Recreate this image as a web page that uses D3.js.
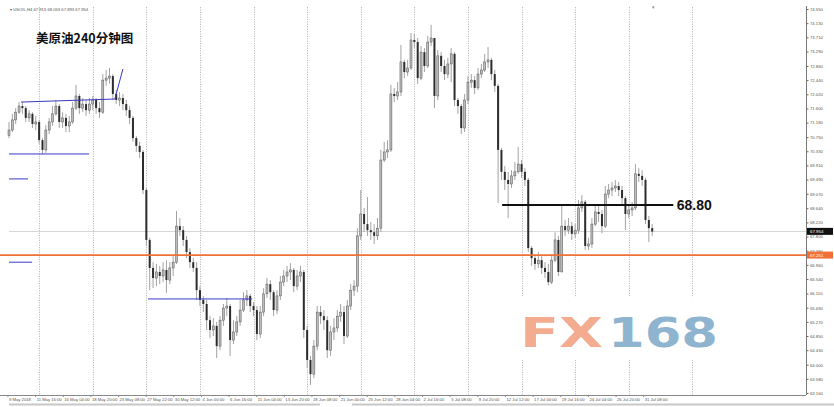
<!DOCTYPE html>
<html><head><meta charset="utf-8">
<script src="https://cdn.jsdelivr.net/npm/d3@7/dist/d3.min.js"></script>
<style>body{margin:0;background:#fff}svg{display:block}</style>
</head><body>
<svg id="c" width="834" height="407"></svg>
<script>
// ---- data (8-hour candles) ----
const firstOpen = 70.80;
const closes = [
70.96,71.26,71.49,71.67,71.61,71.32,71.44,71.14,71.20,70.66,
70.37,70.96,71.20,71.44,71.67,71.20,71.32,71.08,71.20,71.61,
71.97,71.61,71.73,71.55,71.73,71.85,71.61,71.49,72.44,72.50,
72.56,72.03,71.85,71.91,71.73,71.55,71.32,70.72,70.49,70.31,
69.18,67.70,66.87,66.57,66.75,66.63,66.81,66.51,66.87,67.04,
68.11,67.99,67.70,67.34,67.04,66.87,66.21,65.92,65.80,65.32,
65.03,65.15,64.55,65.32,65.68,65.74,64.73,64.97,65.27,65.62,
65.92,66.04,65.74,65.62,64.91,65.56,66.10,66.39,66.15,65.62,
66.04,66.45,66.63,66.75,66.81,66.33,66.63,66.75,65.03,64.14,
63.72,64.55,65.56,65.44,65.32,64.43,64.97,65.09,65.44,65.56,
64.85,65.74,66.21,66.33,67.82,68.47,68.17,67.99,67.93,67.82,
68.05,70.07,70.31,70.37,72.03,71.97,72.09,72.98,72.68,72.80,
73.63,73.57,72.50,73.27,72.86,73.57,73.69,71.97,73.16,72.86,
72.62,72.92,73.22,71.85,71.67,71.02,71.85,72.38,72.44,72.21,
72.62,72.74,72.98,73.04,72.62,72.27,70.37,69.72,69.48,69.36,
69.60,69.72,69.95,69.72,69.48,67.46,67.16,66.99,67.10,66.87,
66.75,66.45,67.10,67.70,66.75,68.11,67.99,68.11,67.88,67.99,
68.65,68.83,67.52,67.58,68.17,68.53,68.47,68.11,69.06,69.18,
69.24,69.30,69.18,68.94,68.47,68.59,68.65,69.66,69.60,69.48,
68.29,68.05,67.95];
const highs = [
71.20,71.44,71.61,71.79,71.79,71.67,71.55,71.49,71.38,71.26,
70.72,71.11,71.32,71.67,71.85,71.73,71.49,71.44,71.38,71.79,
72.30,72.03,71.91,71.85,71.91,71.97,71.91,71.79,72.62,72.74,
72.80,72.62,72.15,72.09,72.03,71.85,71.67,71.38,70.78,70.61,
70.37,69.24,67.76,67.04,66.99,66.93,67.04,67.10,67.04,67.22,
68.56,68.35,68.11,67.82,67.46,67.16,67.04,66.33,66.04,65.92,
65.44,65.38,65.27,65.44,65.80,65.98,65.80,65.32,65.44,65.92,
66.15,66.21,66.10,65.86,65.74,65.74,66.27,66.57,66.51,66.21,
66.21,66.63,66.81,66.93,67.01,66.87,66.81,66.93,66.81,65.15,
64.26,64.73,65.74,65.74,65.62,65.44,65.15,65.38,65.62,65.80,
65.74,65.92,66.39,66.51,68.05,69.18,68.65,68.97,68.23,68.17,
68.35,70.37,70.61,70.66,72.30,72.21,72.38,73.48,73.04,73.04,
73.84,73.81,73.69,73.45,73.39,73.75,74.08,73.69,73.33,73.27,
73.04,73.10,73.39,73.27,71.91,71.73,72.03,72.56,72.62,72.56,
72.80,72.92,73.22,73.42,73.10,72.74,72.33,70.43,69.89,69.72,
69.77,70.01,70.46,70.07,69.83,69.54,67.52,67.28,67.34,67.22,
67.04,66.99,67.28,67.93,67.82,68.74,68.29,68.35,68.23,68.17,
68.88,69.03,68.88,67.76,68.35,68.71,68.71,68.59,69.30,69.36,
69.42,69.48,69.42,69.30,69.00,68.77,68.83,69.95,69.83,69.77,
69.54,68.41,68.17];
const lows = [
70.72,70.90,71.14,71.44,71.44,71.20,71.20,71.02,70.96,70.55,
70.25,70.28,70.84,71.08,71.38,71.02,71.02,70.90,70.90,71.14,
71.55,71.44,71.49,71.38,71.44,71.55,71.44,71.32,71.44,72.27,
72.33,71.85,71.73,71.67,71.55,71.38,71.14,70.61,70.31,70.13,
69.06,67.52,66.21,66.27,66.33,66.39,66.45,66.13,66.39,66.63,
66.99,67.82,67.52,67.16,66.87,66.75,65.92,65.74,65.56,65.03,
64.79,64.85,64.20,64.43,65.15,65.44,64.26,64.61,64.85,65.15,
65.56,65.74,65.56,65.44,64.73,64.79,65.44,65.98,65.92,65.44,
65.50,65.92,66.33,66.45,66.51,66.15,66.21,66.45,64.79,63.90,
63.40,63.60,64.43,65.21,65.03,64.20,64.26,64.73,64.97,65.27,
64.61,64.79,65.62,66.04,66.15,67.70,67.93,67.82,67.70,67.58,
67.70,67.93,70.01,70.13,70.31,71.79,71.85,71.97,72.50,72.56,
72.74,73.39,72.33,72.44,72.68,72.80,73.45,71.61,71.85,72.68,
72.44,72.50,72.38,71.67,71.44,70.84,70.90,71.73,72.21,72.03,
72.15,72.50,72.68,72.80,72.44,72.09,68.80,69.48,69.18,68.35,
69.24,69.48,69.66,69.54,69.30,67.34,66.93,66.81,66.87,66.69,
66.57,66.36,66.39,67.04,66.63,66.75,67.82,67.88,67.70,67.76,
67.88,68.53,67.40,67.40,67.46,68.11,68.23,67.90,68.05,68.94,
69.00,69.12,69.00,68.77,67.99,68.35,68.41,68.59,69.42,69.30,
68.17,67.64,67.82];
const priceTicks = [74.550,74.130,73.710,73.290,72.860,72.440,72.020,71.600,71.180,70.750,
70.330,69.910,69.490,69.070,68.640,68.220,67.800,67.380,66.960,66.540,66.110,65.690,
65.270,64.850,64.430,64.000,63.580,63.160];
const timeLabels = ["9 May 2018","11 May 16:00","16 May 04:00","18 May 20:00","23 May 08:00",
"27 May 22:00","30 May 12:00","4 Jun 00:00","6 Jun 16:00","11 Jun 04:00","13 Jun 20:00",
"18 Jun 08:00","21 Jun 00:00","25 Jun 12:00","28 Jun 04:00","2 Jul 16:00","5 Jul 08:00",
"9 Jul 20:00","12 Jul 12:00","17 Jul 00:00","19 Jul 16:00","24 Jul 04:00","26 Jul 20:00",
"31 Jul 08:00"];
const gridIdx = [9,25,41,57,73,89,105,121,137,153,169,185,204];
const currentPrice = 67.954;
const orangeLevel = 67.251;
const keyLevel = 68.74, keyLabel = "68.80";
// annotation segments: [idx1, price1, idx2, price2]
const blueSegs = [
  [3.6,71.79,31.6,71.88],[31.6,71.88,34.0,72.77],
  [0,70.25,23.9,70.25],[0,69.51,5.7,69.51],[0,67.04,6.9,67.04],
  [41.5,65.95,72.6,65.95]
];
const keySeg = [147.2,198.3];

// ---- drawing ----
const svg = d3.select("#c");
const x = d3.scaleLinear().domain([0,192]).range([9,652.2]);
const y = d3.scaleLinear().domain([63.16,74.55]).range([393,9]);
const axisX = 806, axisBottom = 395;

// vertical grid
svg.append("g").selectAll("line").data(gridIdx).join("line")
  .attr("x1",d=>Math.round(x(d))+0.5).attr("x2",d=>Math.round(x(d))+0.5)
  .attr("y1",7).attr("y2",axisBottom)
  .attr("stroke","#b4b4b4").attr("stroke-dasharray","1.2,1.2").attr("stroke-width",0.9);

// watermark
const wm = svg.append("g");
wm.append("rect").attr("x",505).attr("y",297).attr("width",240).attr("height",63).attr("fill","#fff");
wm.append("text").attr("x",520).attr("y",347).text("FX")
  .attr("font-family","DejaVu Sans").attr("font-weight","bold").attr("font-size",41)
  .attr("textLength",83).attr("lengthAdjust","spacingAndGlyphs").attr("fill","#f4ac90");
wm.append("text").attr("x",608).attr("y",347).text("168")
  .attr("font-family","DejaVu Sans").attr("font-weight","bold").attr("font-size",41)
  .attr("textLength",110).attr("lengthAdjust","spacingAndGlyphs").attr("fill","#8fb4cf");

// current price line
svg.append("line").attr("x1",9).attr("x2",axisX).attr("y1",Math.round(y(currentPrice))+0.5).attr("y2",Math.round(y(currentPrice))+0.5)
  .attr("stroke","#d6d6d6").attr("stroke-width",1);

// candles
const data = closes.map((c,i)=>({i,o:i===0?firstOpen:closes[i-1],h:highs[i],l:lows[i],c}));
const cg = svg.append("g");
cg.selectAll("line").data(data).join("line")
  .attr("x1",d=>x(d.i)).attr("x2",d=>x(d.i)).attr("y1",d=>y(d.h)).attr("y2",d=>y(d.l))
  .attr("stroke","#a2a2a2").attr("stroke-width",1);
cg.selectAll("rect").data(data).join("rect")
  .attr("x",d=>x(d.i)-1).attr("width",2)
  .attr("y",d=>y(Math.max(d.o,d.c)))
  .attr("height",d=>Math.max(0.8,Math.abs(y(d.o)-y(d.c))))
  .attr("fill",d=>d.c>=d.o?"#bcbcbc":"#2d2d2d")
  .attr("stroke",d=>d.c>=d.o?"#555":"none").attr("stroke-width",0.5);

// blue annotation lines
svg.append("g").selectAll("line").data(blueSegs).join("line")
  .attr("x1",d=>x(d[0])).attr("y1",d=>y(d[1])).attr("x2",d=>x(d[2])).attr("y2",d=>y(d[3]))
  .attr("stroke","#3a3ac4").attr("stroke-width",1);

// orange level
svg.append("line").attr("x1",0).attr("x2",axisX).attr("y1",y(orangeLevel)).attr("y2",y(orangeLevel))
  .attr("stroke","#f07038").attr("stroke-width",1.6);

// key level line + label
svg.append("line").attr("x1",x(keySeg[0])).attr("x2",x(keySeg[1])).attr("y1",y(keyLevel)).attr("y2",y(keyLevel))
  .attr("stroke","#111").attr("stroke-width",2);
svg.append("text").attr("x",x(keySeg[1])+3.5).attr("y",y(keyLevel)+5).text(keyLabel)
  .attr("font-family","Liberation Sans, Arial").attr("font-weight","bold").attr("font-size",14).attr("fill","#111");

// right price axis
const ya = svg.append("g").attr("transform",`translate(${axisX},0)`)
  .call(d3.axisRight(y).tickValues(priceTicks).tickSize(2.5).tickFormat(d3.format(".3f")));
ya.select(".domain").remove();
ya.selectAll("line").attr("stroke","#666");
ya.selectAll("text").attr("font-size",4.2).attr("font-family","Liberation Sans, Arial").attr("fill","#555").attr("x",4);
svg.append("line").attr("x1",axisX+0.5).attr("x2",axisX+0.5).attr("y1",6).attr("y2",axisBottom).attr("stroke","#777").attr("stroke-width",1);

// price tags
function tag(v,bg,label){
  const g=svg.append("g").attr("transform",`translate(${axisX+1},${y(v)})`);
  g.append("rect").attr("x",0).attr("y",-3.5).attr("width",26).attr("height",7).attr("fill",bg);
  g.append("text").attr("x",3).attr("y",1.6).text(label).attr("font-size",4.4)
    .attr("font-family","Liberation Sans, Arial").attr("fill","#fff");
}
tag(currentPrice,"#111",d3.format(".3f")(currentPrice));
tag(orangeLevel,"#f07038",d3.format(".3f")(orangeLevel));

// bottom time axis
const labelIdx = timeLabels.map((_,k)=>7.8+8.25*(k-1));
const xa = svg.append("g").attr("transform",`translate(0,${axisBottom})`)
  .call(d3.axisBottom(x).tickValues(labelIdx).tickSize(2).tickFormat((d,i)=>timeLabels[i]));
xa.select(".domain").remove();
xa.selectAll("line").attr("stroke","#888");
xa.selectAll("text").attr("font-size",4.2).attr("font-family","Liberation Sans, Arial").attr("fill","#555")
  .attr("text-anchor","start").attr("dx",1).attr("y",3);
svg.append("line").attr("x1",0).attr("x2",axisX).attr("y1",axisBottom+0.5).attr("y2",axisBottom+0.5).attr("stroke","#888");
// scrollbar strip
svg.append("line").attr("x1",9).attr("x2",320).attr("y1",404.5).attr("y2",404.5).attr("stroke","#c8c8c8").attr("stroke-width",2);
svg.append("line").attr("x1",352).attr("x2",834).attr("y1",404.5).attr("y2",404.5).attr("stroke","#c8c8c8").attr("stroke-width",2);

// header texts
svg.append("text").attr("x",10).attr("y",10.5).text("\u25BE USOIL,H4 67.915 68.053 67.893 67.954")
  .attr("font-size",4.2).attr("font-family","Liberation Sans, Arial").attr("fill","#555");
svg.append("text").attr("x",36).attr("y",43).text("美原油240分钟图")
  .attr("font-size",12.5).attr("font-weight","bold").attr("font-family","Noto Sans CJK SC").attr("fill","#111");
svg.append("text").attr("x",x(192)+1).attr("y",9).text("\u25BE").attr("font-size",5).attr("fill","#888").attr("text-anchor","middle");
</script>
</body></html>
